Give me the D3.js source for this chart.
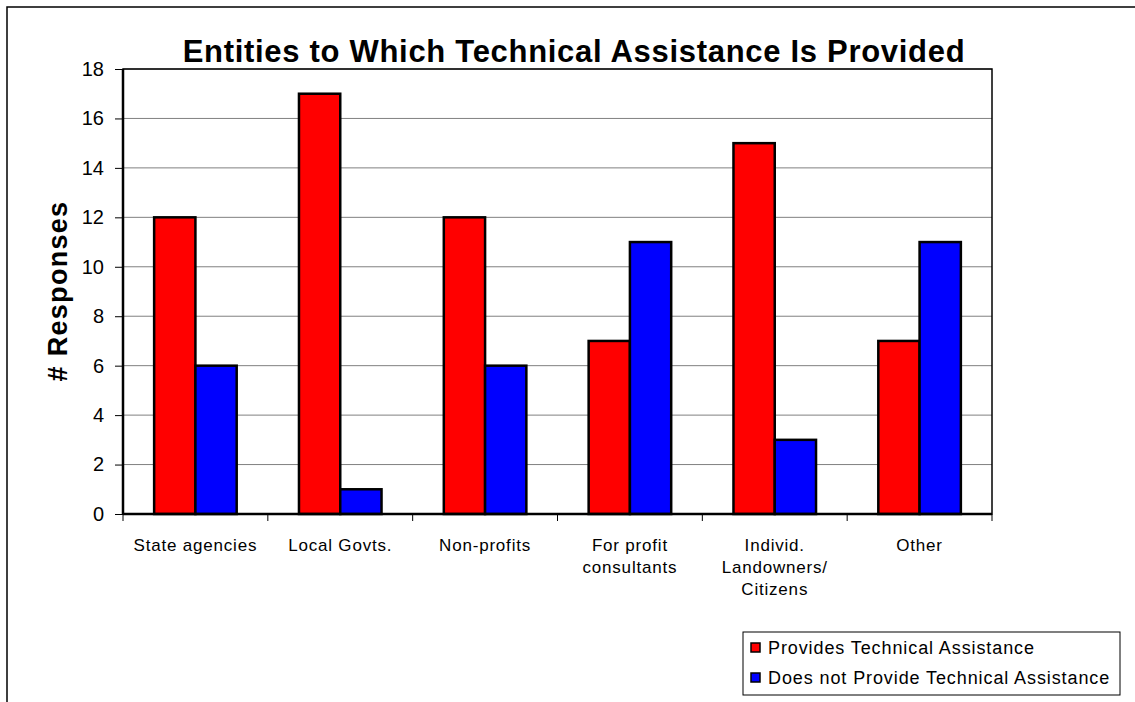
<!DOCTYPE html>
<html><head><meta charset="utf-8">
<script src="https://cdn.jsdelivr.net/npm/d3@7"></script>
<style>body{margin:0;background:#fff}svg{display:block;font-family:"Liberation Sans",Arial,sans-serif}</style>
</head><body><svg id="c" width="1135" height="702"></svg>
<script>
const categories = [["State agencies"],["Local Govts."],["Non-profits"],["For profit","consultants"],["Individ.","Landowners/","Citizens"],["Other"]];
const seriesNames = ["Provides Technical Assistance","Does not Provide Technical Assistance"];
const provides = [12,17,12,7,15,7];
const doesNot = [6,1,6,11,3,11];
const colors = ["#ff0000","#0000ff"];
const yTicks = [0,2,4,6,8,10,12,14,16,18];

const svg = d3.select("#c");
svg.append("rect").attr("x",7).attr("y",7).attr("width",1140).attr("height",710)
  .attr("fill","none").attr("stroke","#000").attr("stroke-width",1.5);

const L=123,R=992,T=69,B=514;
const x = d3.scaleBand().domain(d3.range(categories.length)).range([L,R]).paddingInner(0.43).paddingOuter(0.215);
const x0 = d3.scaleBand().domain(d3.range(categories.length)).range([L,R]);
const xs = d3.scaleBand().domain([0,1]).range([0,x.bandwidth()]);
const y = d3.scaleLinear().domain([0,18]).range([B,T]);

svg.append("g").selectAll("line").data(yTicks.filter(d=>d>0)).join("line")
  .attr("x1",L).attr("x2",R).attr("y1",d=>y(d)).attr("y2",d=>y(d))
  .attr("stroke","#808080").attr("stroke-width",1);

svg.append("rect").attr("x",L).attr("y",T).attr("width",R-L).attr("height",B-T)
  .attr("fill","none").attr("stroke","#000").attr("stroke-width",1.5);

[provides, doesNot].forEach((arr,si)=>{
  svg.append("g").selectAll("rect").data(arr).join("rect")
    .attr("x",(d,i)=>x(i)+xs(si)).attr("width",xs.bandwidth())
    .attr("y",d=>y(d)).attr("height",d=>B-y(d))
    .attr("fill",colors[si]).attr("stroke","#000").attr("stroke-width",2.5);
});

const ya = svg.append("g").attr("transform",`translate(${L},0)`)
  .call(d3.axisLeft(y).tickValues(yTicks).tickSize(8).tickPadding(11).tickFormat(d3.format("d")));
ya.select(".domain").attr("stroke-width",2.5).attr("d",`M0,${T}V${B+1}`);
ya.selectAll(".tick line").attr("stroke","#000").attr("stroke-width",1);
ya.selectAll("text").attr("font-size",20).attr("fill","#000").attr("font-family","Liberation Sans, Arial, sans-serif");

const xa = svg.append("g").attr("transform",`translate(0,${B})`);
xa.append("line").attr("x1",L).attr("x2",R).attr("stroke","#000").attr("stroke-width",2.5);
xa.selectAll(".tk").data(d3.range(categories.length+1)).join("line")
  .attr("x1",i=>L+i*x0.step()).attr("x2",i=>L+i*x0.step()).attr("y1",0).attr("y2",7)
  .attr("stroke","#000").attr("stroke-width",1);
categories.forEach((lines,i)=>{
  const cx = x0(i)+x0.bandwidth()/2;
  const t = xa.append("text").attr("text-anchor","middle").attr("font-size",17)
    .attr("letter-spacing",0.8).attr("fill","#000").attr("x",cx).attr("y",37);
  lines.forEach((ln,j)=>t.append("tspan").attr("x",cx).attr("dy",j?22:0).text(ln));
});

svg.append("text").attr("x",574).attr("y",62).attr("text-anchor","middle")
  .attr("font-size",31).attr("letter-spacing",0.7).attr("font-weight","bold")
  .text("Entities to Which Technical Assistance Is Provided");
svg.append("text").attr("transform",`translate(67,291) rotate(-90)`).attr("text-anchor","middle")
  .attr("font-size",27).attr("letter-spacing",1.3).attr("font-weight","bold").text("# Responses");

const lg = svg.append("g");
lg.append("rect").attr("x",743).attr("y",632).attr("width",377).attr("height",63)
  .attr("fill","#fff").attr("stroke","#000").attr("stroke-width",1);
seriesNames.forEach((n,i)=>{
  const yy = 648 + i*30;
  lg.append("rect").attr("x",751).attr("y",yy-5).attr("width",9).attr("height",9)
    .attr("fill",colors[i]).attr("stroke","#000").attr("stroke-width",1.5);
  lg.append("text").attr("x",768).attr("y",yy+6).attr("font-size",18).attr("letter-spacing",0.9).text(n);
});
</script></body></html>
